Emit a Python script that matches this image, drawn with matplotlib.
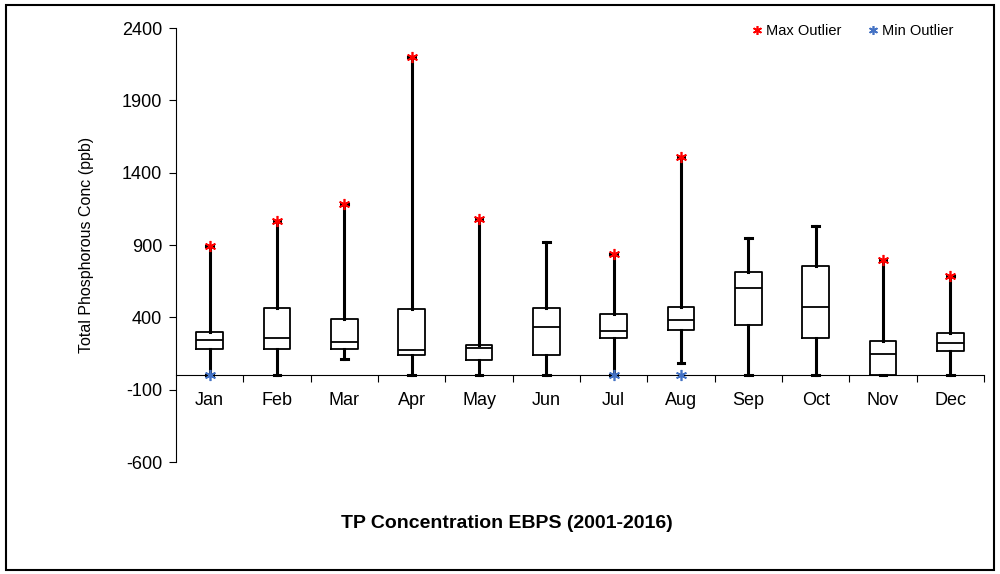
import matplotlib
matplotlib.use('Agg')
import matplotlib.pyplot as plt
from matplotlib.patches import Rectangle

plt.rcParams['font.family'] = ['Liberation Sans', 'DejaVu Sans']
plt.rcParams['axes.unicode_minus'] = False

# Monthly box stats (ppb)
months = ['Jan', 'Feb', 'Mar', 'Apr', 'May', 'Jun', 'Jul', 'Aug', 'Sep', 'Oct', 'Nov', 'Dec']
q1 = [181, 183, 181, 142, 103, 142, 257, 315, 349, 257, 0, 169]
med = [241, 257, 232, 172, 186, 333, 308, 379, 603, 471, 149, 225]
q3 = [296, 462, 386, 455, 207, 467, 421, 469, 715, 752, 236, 292]
whisk_lo = [0, 0, 112, 0, 0, 0, 0, 82, 0, 0, 0, 0]
whisk_hi = [895, 1067, 1181, 2199, 1080, 923, 838, 1508, 948, 1031, 796, 686]
max_outlier = [895, 1067, 1181, 2199, 1080, None, 838, 1508, None, None, 796, 686]
min_outlier = [0, None, None, None, None, None, 0, 0, None, None, None, None]

fig = plt.figure(figsize=(10, 5.74), dpi=100)
ax = fig.add_axes([0.176, 0.1951, 0.808, 0.7561])

stats = []
for i, m in enumerate(months):
    stats.append({'label': m, 'q1': q1[i], 'med': med[i], 'q3': q3[i],
                  'whislo': whisk_lo[i], 'whishi': whisk_hi[i], 'fliers': []})

pos = list(range(1, 13))
ax.bxp(stats, positions=pos, widths=0.4, capwidths=0.1, showfliers=False,
       boxprops=dict(color='black', linewidth=1.3),
       medianprops=dict(color='black', linewidth=1.3),
       whiskerprops=dict(color='black', linewidth=2.2),
       capprops=dict(color='black', linewidth=2.2))

# outliers
mx_x = [p for p, v in zip(pos, max_outlier) if v is not None]
mx_y = [v for v in max_outlier if v is not None]
mn_x = [p for p, v in zip(pos, min_outlier) if v is not None]
mn_y = [v for v in min_outlier if v is not None]
ax.plot(mx_x, mx_y, linestyle='none', marker=(6, 2, 0), markersize=8,
        markeredgewidth=1.2, color='#FF0000', label='Max Outlier', zorder=5)
ax.plot(mn_x, mn_y, linestyle='none', marker=(6, 2, 0), markersize=8,
        markeredgewidth=1.2, color='#4472C4', label='Min Outlier', zorder=5)

ax.set_xlim(0.5, 12.5)
ax.set_ylim(-600, 2400)
ax.set_yticks(range(-600, 2401, 500))
ax.tick_params(axis='y', labelsize=13, length=5, width=0.8, pad=5)

ax.spines['top'].set_visible(False)
ax.spines['right'].set_visible(False)
ax.spines['bottom'].set_position(('data', 0))
ax.spines['bottom'].set_linewidth(0.8)
ax.spines['left'].set_linewidth(0.8)

ax.set_xticks([p + 0.5 for p in pos])
ax.set_xticklabels([])
ax.set_xticks(pos, minor=True)
ax.set_xticklabels(months, minor=True)
ax.tick_params(axis='x', which='major', length=5, width=0.8, direction='out')
ax.tick_params(axis='x', which='minor', length=0, labelsize=13, pad=12)

ax.set_ylabel('Total Phosphorous Conc (ppb)', fontsize=11.5, labelpad=20)

ax.legend(loc='upper right', bbox_to_anchor=(0.978, 1.04), ncol=2, frameon=False,
          fontsize=10.5, handletextpad=-0.2, columnspacing=1.4, markerscale=0.8,
          handlelength=1.6)

fig.text(0.507, 0.088, 'TP Concentration EBPS (2001-2016)', ha='center', va='center',
         fontsize=14, fontweight='bold')

fig.patches.append(Rectangle((0.006, 0.007), 0.988, 0.985, transform=fig.transFigure,
                             fill=False, edgecolor='black', linewidth=1.5))

fig.savefig('out.png', dpi=100)
